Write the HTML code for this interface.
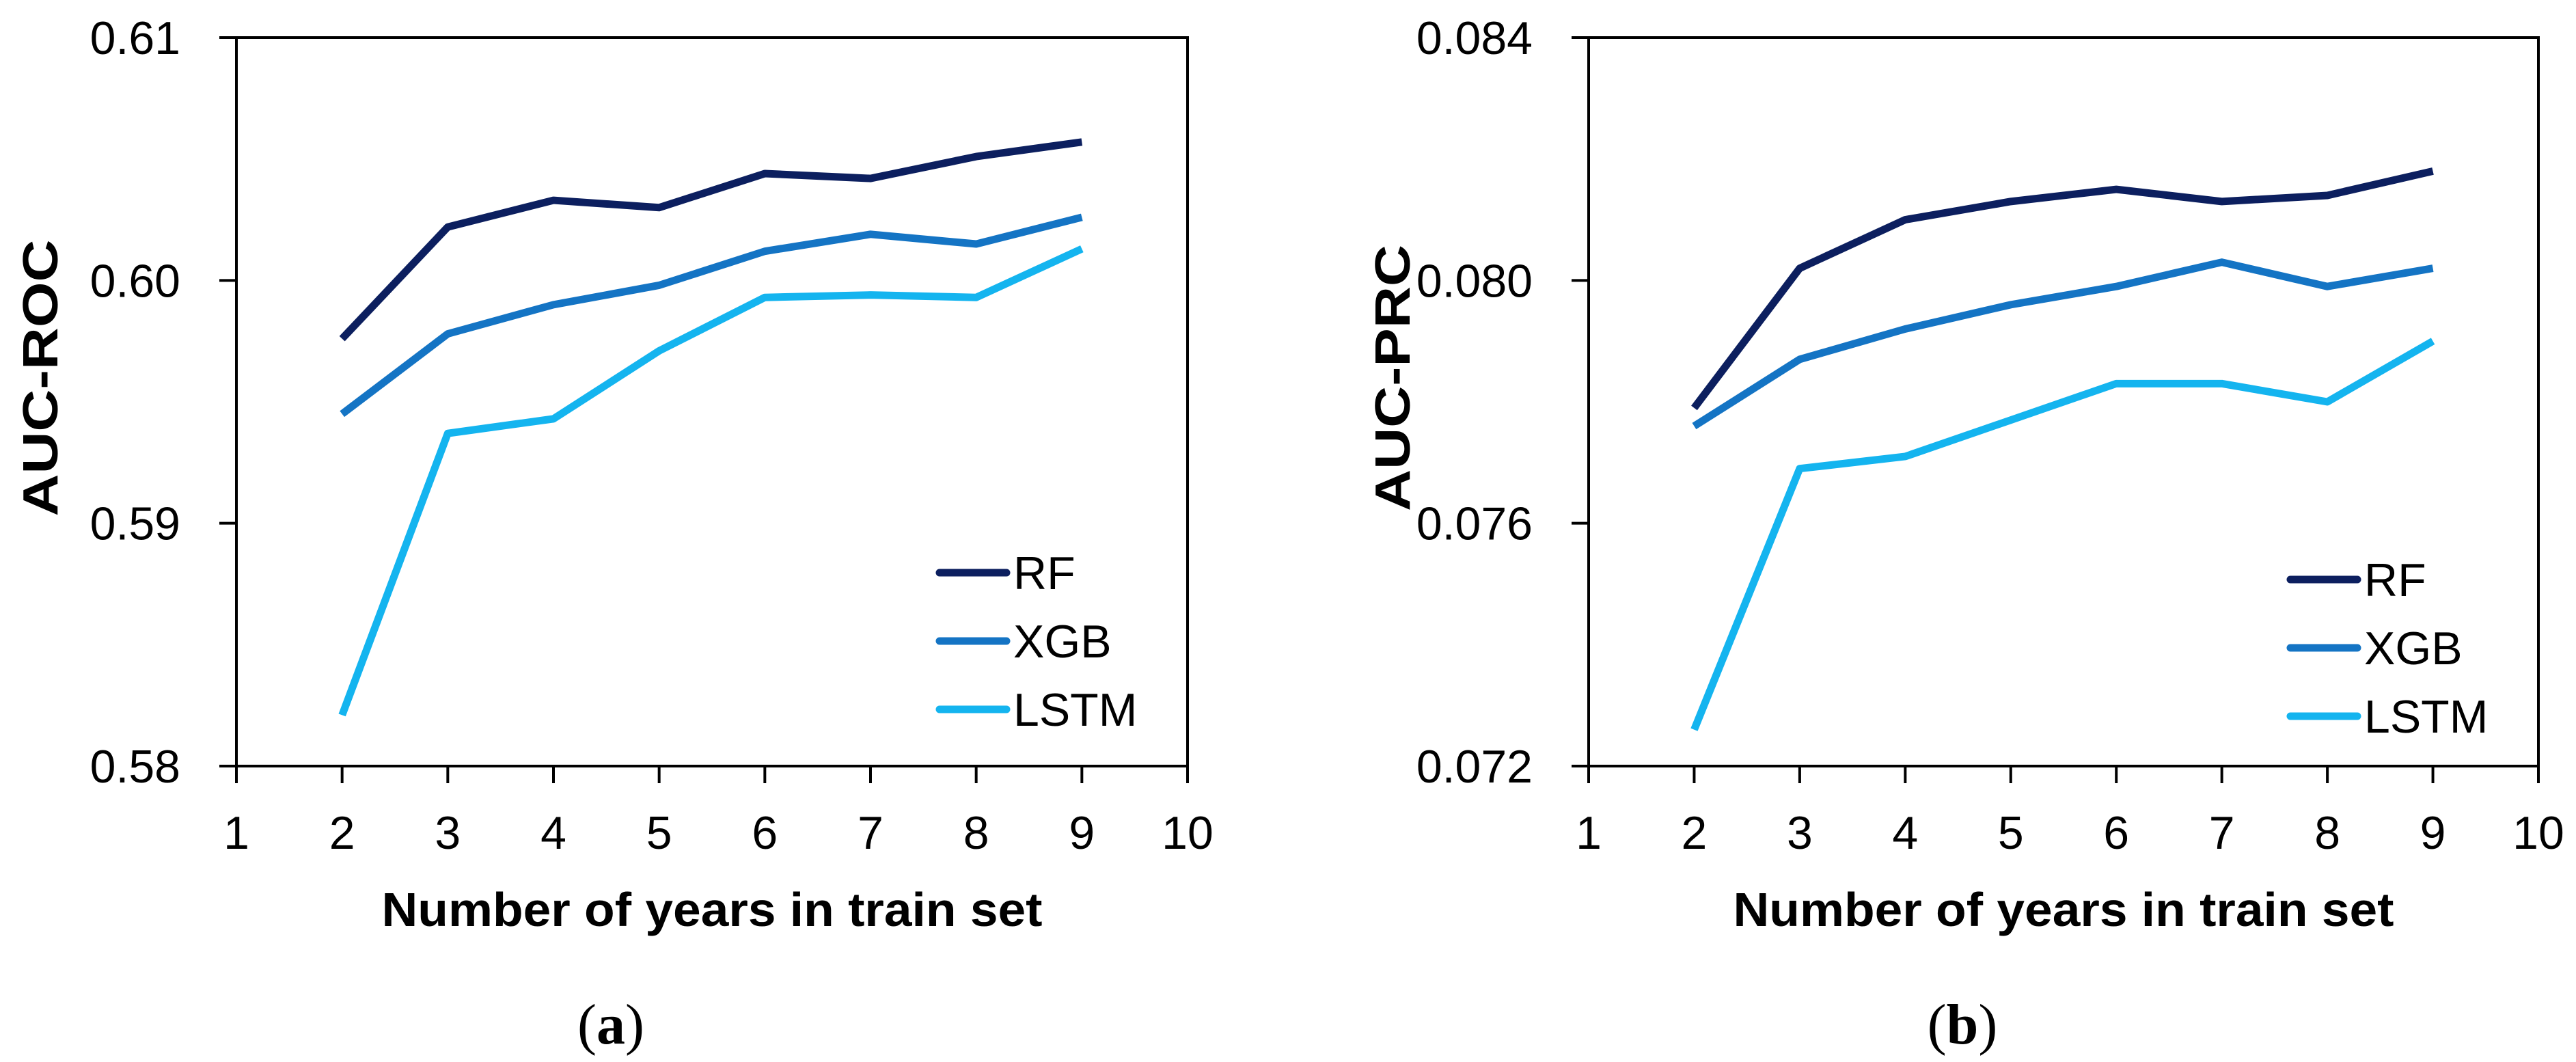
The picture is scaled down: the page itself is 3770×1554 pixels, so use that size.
<!DOCTYPE html>
<html><head><meta charset="utf-8"><style>
html,body{margin:0;padding:0;background:#fff;}
svg{display:block;font-family:"Liberation Sans",sans-serif;}
</style></head><body>
<svg id="chart" width="3770" height="1554" viewBox="0 0 3770 1554" xmlns="http://www.w3.org/2000/svg"></svg>
<script>
const years = [2,3,4,5,6,7,8,9];
const xTicks = [1,2,3,4,5,6,7,8,9,10];
const seriesNames = ["RF","XGB","LSTM"];
const rocRF   = [0.5976,0.6022,0.6033,0.6030,0.6044,0.6042,0.6051,0.6057];
const rocXGB  = [0.5945,0.5978,0.5990,0.5998,0.6012,0.6019,0.6015,0.6026];
const rocLSTM = [0.5821,0.5937,0.5943,0.5971,0.5993,0.5994,0.5993,0.6013];
const prcRF   = [0.0779,0.0802,0.0810,0.0813,0.0815,0.0813,0.0814,0.0818];
const prcXGB  = [0.0776,0.0787,0.0792,0.0796,0.0799,0.0803,0.0799,0.0802];
const prcLSTM = [0.0726,0.0769,0.0771,0.0777,0.0783,0.0783,0.0780,0.0790];
const rocTicks = ["0.58","0.59","0.60","0.61"];
const prcTicks = ["0.072","0.076","0.080","0.084"];

const NS = "http://www.w3.org/2000/svg";
const svg = document.getElementById('chart');
const colors = ["#0c1f5f","#1474c4","#14b4ef"];
function mk(tag, attrs, parent){
  const e = document.createElementNS(NS, tag);
  for (const k in attrs) e.setAttribute(k, attrs[k]);
  (parent||svg).appendChild(e);
  return e;
}
function panel(id, L, R, T, B, yTicks, series, yTitle, caption, legX, legY0, yTitleLen){
  const g = mk('g', {});
  
  
  const yMin = parseFloat(yTicks[0]), yMax = parseFloat(yTicks[yTicks.length-1]);
  const xs = v => L + (v - 1) / 9 * (R - L);
  const ys = v => B - (v - yMin) / (yMax - yMin) * (B - T);
  const frame = mk('rect', {x:L, y:T, width:R-L, height:B-T, fill:'none', stroke:'#000', 'stroke-width':4}, g);
  
  
  yTicks.forEach(t => {
    const y = ys(parseFloat(t));
    const tk = mk('line', {x1:L-25, x2:L, y1:y, y2:y, stroke:'#000', 'stroke-width':4}, g);
    
    
    const tx = mk('text', {x:L-82, y:y+24, 'font-size':68, 'text-anchor':'end', fill:'#000'}, g);
    
    
    tx.textContent = t;
  });
  xTicks.forEach(t => {
    const x = xs(t);
    const tk = mk('line', {x1:x, x2:x, y1:B, y2:B+25, stroke:'#000', 'stroke-width':4}, g);
    
    
    const tx = mk('text', {x:x, y:B+121, 'font-size':68, 'text-anchor':'middle', fill:'#000'}, g);
    
    
    tx.textContent = t;
  });
  series.forEach((s, i) => {
    const pts = years.map((yr, j) => xs(yr) + ',' + ys(s[j])).join(' ');
    const pl = mk('polyline', {points:pts, fill:'none', stroke:colors[i], 'stroke-width':11, 'stroke-linejoin':'round'}, g);
    
    
    const ly = legY0 + i * 100;
    const ll = mk('line', {x1:legX, x2:legX+98, y1:ly, y2:ly, stroke:colors[i], 'stroke-width':11, 'stroke-linecap':'round'}, g);
    
    
    const lt = mk('text', {x:legX+108, y:ly+24, 'font-size':68, fill:'#000'}, g);
    
    
    lt.textContent = seriesNames[i];
  });
  const yt = mk('text', {x:0, y:0, 'font-size':72, 'font-weight':'bold', 'text-anchor':'middle', fill:'#000',
    textLength:yTitleLen, lengthAdjust:'spacingAndGlyphs',
    transform:'translate(' + (L-262) + ',553) rotate(-90)'}, g);
  
  
  yt.textContent = yTitle;
  const xt = mk('text', {x:(L+R)/2, y:B+234, 'font-size':70, 'font-weight':'bold', 'text-anchor':'middle', fill:'#000',
    textLength:967, lengthAdjust:'spacingAndGlyphs'}, g);
  
  
  xt.textContent = 'Number of years in train set';
  const cp = mk('text', {x:(L+R)/2 - 148, y:1527, 'font-size':84, 'text-anchor':'middle', fill:'#000',
    'font-family':'"Liberation Serif",serif'}, g);
  
  
  cp.innerHTML = '(<tspan font-weight="bold">' + caption + '</tspan>)';
}
panel('roc', 346, 1738, 55, 1121, rocTicks, [rocRF, rocXGB, rocLSTM], 'AUC-ROC', 'a', 1375, 838, 405);
panel('prc', 2325, 3715, 55, 1121, prcTicks, [prcRF, prcXGB, prcLSTM], 'AUC-PRC', 'b', 3352, 848, 390);
</script>
</body></html>
